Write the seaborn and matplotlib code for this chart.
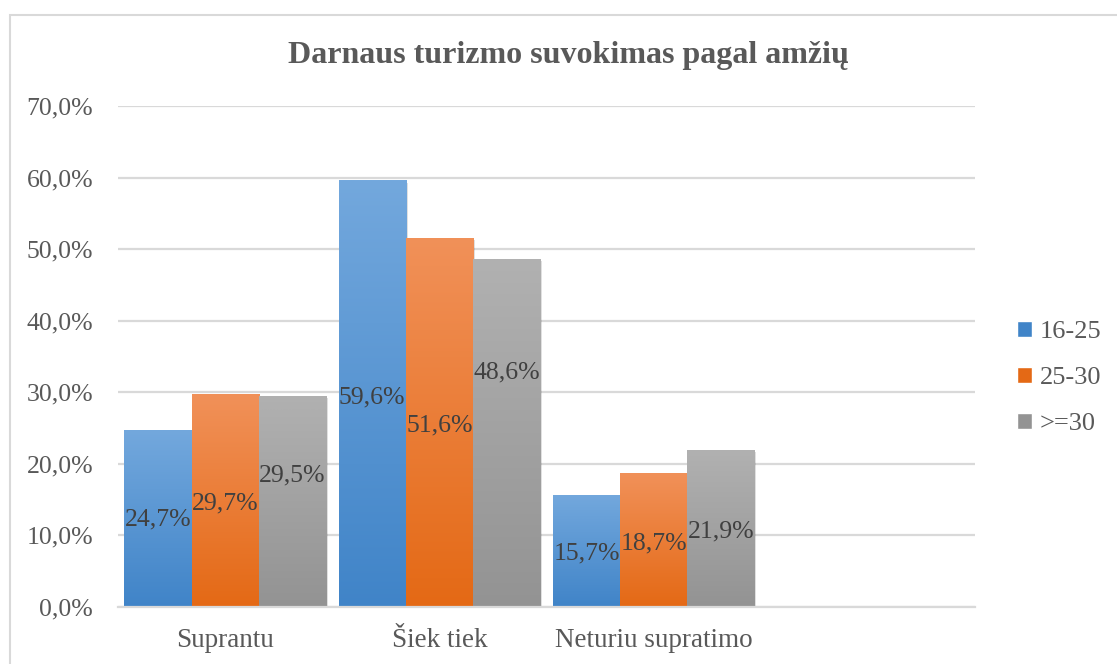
import numpy as np
import pandas as pd
import matplotlib
matplotlib.use("Agg")
import matplotlib.pyplot as plt
import seaborn as sns
from matplotlib.ticker import FuncFormatter
from matplotlib.patches import Rectangle, Patch
from matplotlib.colors import LinearSegmentedColormap

categories = ["Suprantu", "Šiek tiek", "Neturiu supratimo"]
groups = ["16-25", "25-30", ">=30"]
v_16_25 = [24.7, 59.6, 15.7]
v_25_30 = [29.7, 51.6, 18.7]
v_30 = [29.5, 48.6, 21.9]

# hand-placed data label heights (as in the original Excel chart)
label_y = {
    "16-25": [0.122, 0.293, 0.075],
    "25-30": [0.145, 0.254, 0.089],
    ">=30": [0.184, 0.328, 0.105],
}

df = pd.DataFrame({
    "kategorija": categories * 3,
    "amzius": [g for g in groups for _ in categories],
    "reiksme": np.array(v_16_25 + v_25_30 + v_30) / 100,
})

# top / bottom gradient colours
grad = {
    "16-25": ("#73A8DD", "#4084C8"),
    "25-30": ("#F19159", "#E46915"),
    ">=30": ("#B1B1B1", "#939393"),
}
palette = {g: grad[g][1] for g in groups}

sns.set_style("white")
plt.rcParams["font.family"] = ["Liberation Serif", "DejaVu Serif"]

fig = plt.figure(figsize=(11.17, 6.64), dpi=100)
ax = fig.add_axes([118 / 1117, 1 - 607 / 664, (975 - 118) / 1117, (607 - 106) / 664])

sns.barplot(data=df, x="kategorija", y="reiksme", hue="amzius", order=categories,
            hue_order=groups, palette=palette, width=0.94, ax=ax, legend=False,
            edgecolor="none", linewidth=0)

ax.set_xlim(-0.5, 3.5)
ax.set_ylim(0, 0.7)

# gradient fill, soft shadow and labels
for cont, g in zip(ax.containers, groups):
    cmap = LinearSegmentedColormap.from_list(g, [grad[g][1], grad[g][0]])
    for bar, ly, v in zip(cont, label_y[g], cont.datavalues):
        x0, y0 = bar.get_x(), bar.get_y()
        w, h = bar.get_width(), bar.get_height()
        ax.add_patch(Rectangle((x0 + 0.008, y0), w, h - 0.003, facecolor="black", alpha=0.12,
                               edgecolor="none", zorder=bar.get_zorder() - 0.05))
        img = ax.imshow(np.linspace(0, 1, 256).reshape(-1, 1), cmap=cmap, aspect="auto",
                        extent=[x0, x0 + w, y0, y0 + h], origin="lower", zorder=bar.get_zorder() + 0.1)
        img.set_clip_path(bar)
        ax.text(x0 + w / 2, ly, f"{v * 100:.1f}%".replace(".", ","), ha="center", va="center",
                fontsize=18.5, color="#404040", zorder=5)

ax.set_xlim(-0.5, 3.5)
ax.set_ylim(0, 0.7)
ax.set_yticks(np.arange(0, 0.71, 0.1))
ax.yaxis.set_major_formatter(FuncFormatter(lambda v, p: f"{v * 100:.1f}%".replace(".", ",")))
ax.grid(axis="y", color="#D9D9D9", linewidth=1.6)
ax.set_axisbelow(True)
for s in ["top", "right", "left"]:
    ax.spines[s].set_visible(False)
ax.spines["bottom"].set_color("#D9D9D9")
ax.spines["bottom"].set_linewidth(1.6)
ax.tick_params(axis="y", length=0, labelsize=18.5, labelcolor="#595959", pad=18)
ax.tick_params(axis="x", length=0, labelsize=19.5, labelcolor="#595959", pad=15)
ax.set_xlabel("")
ax.set_ylabel("")

handles = [Patch(facecolor=grad[g][1], label=g) for g in groups]
leg = fig.legend(handles=handles, loc="center left", bbox_to_anchor=(1017 / 1117, 1 - 378 / 664),
                 frameon=False, fontsize=19, handlelength=0.55, handleheight=0.55,
                 handletextpad=0.3, labelspacing=0.9, labelcolor="#595959",
                 borderpad=0, borderaxespad=0)

fig.text(568 / 1117, 1 - 56 / 664, "Darnaus turizmo suvokimas pagal amžių", ha="center",
         va="center", fontsize=23, fontweight="bold", color="#595959")

fig.patches.append(Rectangle((10 / 1117, -0.1), 1.2, 1.1 - 15 / 664, transform=fig.transFigure,
                             fill=False, edgecolor="#D9D9D9", linewidth=1.5))

fig.savefig("out.png", dpi=100)
